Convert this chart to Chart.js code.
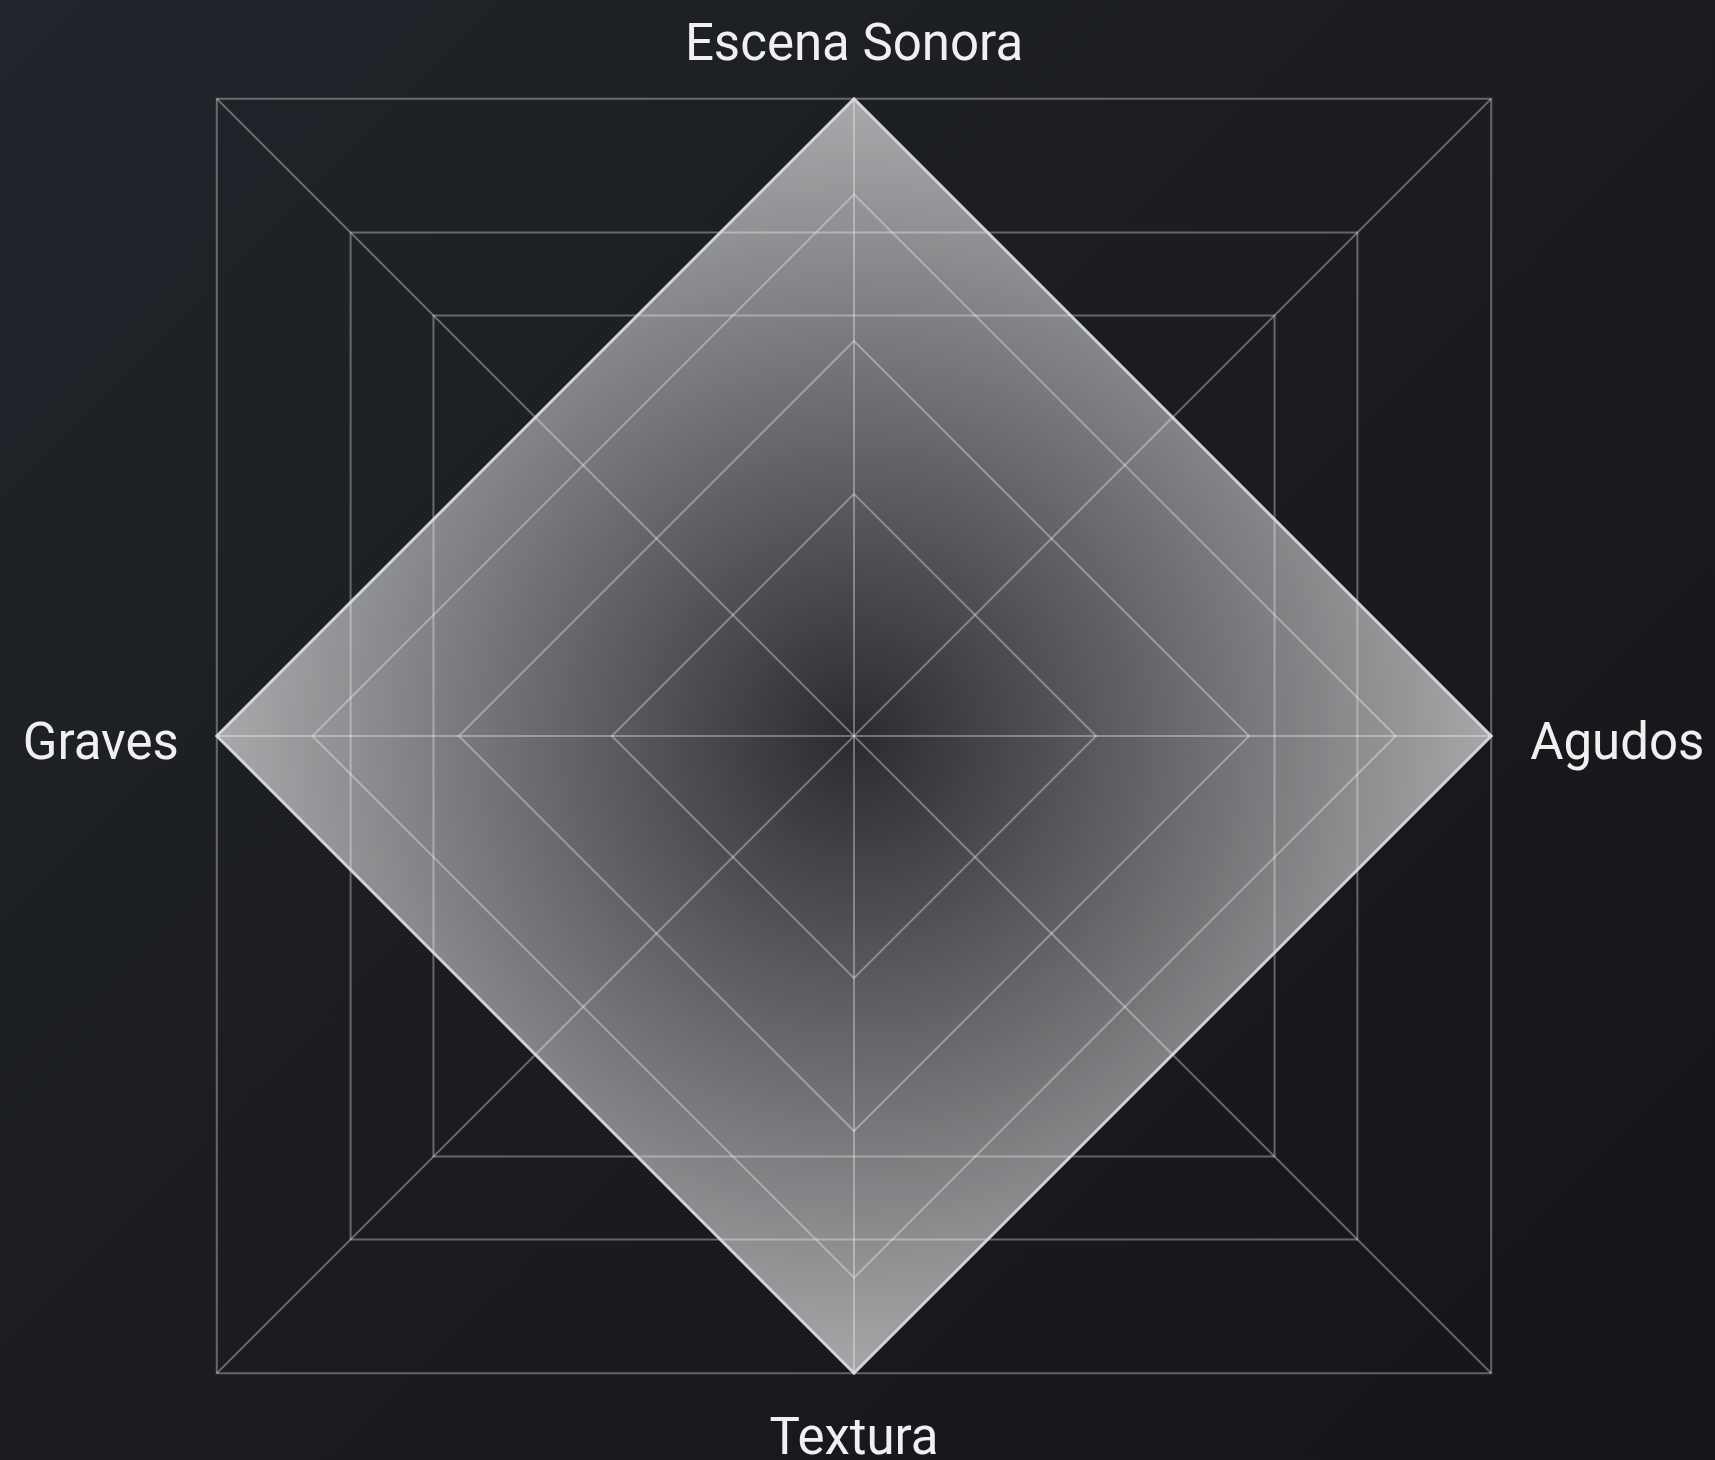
<!DOCTYPE html>
<html>
<head>
<meta charset="utf-8">
<script src="https://cdn.jsdelivr.net/npm/chart.js@4.4.1/dist/chart.umd.min.js"></script>
<style>
  html, body {
    margin: 0;
    padding: 0;
    width: 1715px;
    height: 1460px;
    overflow: hidden;
    background: linear-gradient(135deg, #21242a 0%, #1a1c21 50%, #141518 100%);
  }
  #wrap { position: relative; width: 1715px; height: 1460px; }
</style>
</head>
<body>
<div id="wrap"><canvas id="radar"></canvas></div>
<script>
// chart data
const labels = ['Escena Sonora', 'Agudos', 'Textura', 'Graves'];
const values = [100, 100, 100, 100];
const diamondTicks = [0, 38, 62, 85, 100];   // rings on the main scale
const squareTicks = [0, 66, 79, 100];        // rings on the 45deg scale
const labelPadding = [42, 39, 58, 38];

const lineColor = 'rgba(255, 255, 255, 0.33)';

// second (rotated) scale shares the centre, its square is drawn around the diamond
const squareScale = {
  id: 'squareScale',
  afterLayout(chart) {
    const a = chart.scales.r;
    const b = chart.scales.r2;
    b.xCenter = a.xCenter;
    b.yCenter = a.yCenter;
    b.drawingArea = a.drawingArea * Math.SQRT2;
  }
};

const fillGradient = (ctx) => {
  const chart = ctx.chart;
  const s = chart.scales.r;
  if (!s || !s.drawingArea) return 'rgba(255,255,255,0.3)';
  const g = chart.ctx.createRadialGradient(s.xCenter, s.yCenter, 0, s.xCenter, s.yCenter, s.drawingArea);
  g.addColorStop(0, 'rgba(255,255,255,0.07)');
  g.addColorStop(1, 'rgba(255,255,255,0.62)');
  return g;
};

Chart.defaults.font.family = 'Roboto';

new Chart(document.getElementById('radar'), {
  type: 'radar',
  data: {
    labels: labels,
    datasets: [{
      data: values,
      rAxisID: 'r',
      fill: 'origin',
      backgroundColor: fillGradient,
      borderColor: 'rgba(222, 224, 228, 0.85)',
      borderWidth: 3,
      pointRadius: 0
    }]
  },
  options: {
    responsive: true,
    maintainAspectRatio: false,
    animation: false,
    events: [],
    layout: { padding: { top: 30, bottom: 0, left: 13, right: 0 } },
    plugins: {
      legend: { display: false },
      tooltip: { enabled: false }
    },
    scales: {
      r: {
        type: 'radialLinear',
        min: 0,
        max: 100,
        z: 1,
        afterBuildTicks: (scale) => { scale.ticks = diamondTicks.map(v => ({ value: v })); },
        ticks: { display: false },
        grid: { color: lineColor, lineWidth: 2 },
        angleLines: { color: lineColor, lineWidth: 2 },
        pointLabels: {
          color: '#f0f0f0',
          font: { family: 'Roboto', size: 51, lineHeight: 0.388 },
          padding: (ctx) => labelPadding[ctx.index],
          // side labels sit a little below the axis
          callback: (label, i) => (i % 2 ? ['', label] : label)
        }
      },
      r2: {
        type: 'radialLinear',
        min: 0,
        max: 100,
        startAngle: 45,
        z: 1,
        afterBuildTicks: (scale) => { scale.ticks = squareTicks.map(v => ({ value: v })); },
        ticks: { display: false },
        grid: { color: lineColor, lineWidth: 2 },
        angleLines: { color: lineColor, lineWidth: 2 },
        pointLabels: { display: false }
      }
    }
  },
  plugins: [squareScale]
});
</script>
</body>
</html>
